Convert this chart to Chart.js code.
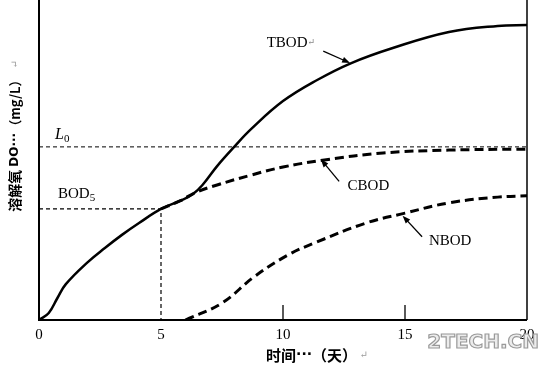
<!DOCTYPE html>
<html>
<head>
<meta charset="utf-8">
<script src="https://cdn.jsdelivr.net/npm/chart.js@4/dist/chart.umd.min.js"></script>
<style>
  html, body { margin: 0; padding: 0; background: #fff; }
  #wrap { width: 549px; height: 369px; }
</style>
</head>
<body>
<div id="wrap"><canvas id="chart"></canvas></div>
<script>
// x: days, y: dissolved oxygen consumed (arbitrary mg/L units, axis has no numbers)
const TBOD_DAYS = [0, 0.4, 0.75, 1.1, 2, 2.7, 3.4, 4.1, 5, 5.8, 6.3, 6.7, 7.3, 8, 8.7, 10, 11.4, 12.8, 14.5, 16.8, 18.8, 20];
const TBOD_VALS = [0, 0.22, 0.68, 1.12, 1.81, 2.25, 2.66, 3.03, 3.47, 3.73, 3.93, 4.22, 4.81, 5.41, 5.97, 6.84, 7.5, 8.03, 8.5, 9.0, 9.19, 9.22];

const CBOD_DAYS = [5, 5.8, 6.4, 7.3, 8.7, 10, 11.7, 14.1, 16.8, 20];
const CBOD_VALS = [3.47, 3.73, 3.98, 4.22, 4.53, 4.78, 5.0, 5.22, 5.31, 5.34];

const NBOD_DAYS = [6.0, 7.5, 8.8, 10.2, 11.3, 13.4, 15, 16.8, 18.8, 20];
const NBOD_VALS = [0, 0.53, 1.34, 2.03, 2.41, 3.03, 3.34, 3.66, 3.84, 3.88];

const L0 = 5.41;
const BOD5_DAY = 5;
const BOD5 = 3.47;

const X_TICKS = [0, 5, 10, 15, 20];
const INNER_TICKS = [10, 15];

// curve labels: [text, labelDay, labelVal, arrowTailDay, arrowTailVal, arrowHeadDay, arrowHeadVal]
const CURVE_LABELS = [
  ["TBOD", 10.2, 8.66, 11.65, 8.4, 12.75, 8.03],
  ["CBOD", 13.5, 4.19, 12.3, 4.33, 11.55, 5.02],
  ["NBOD", 16.85, 2.47, 15.7, 2.6, 14.9, 3.26],
];

const X_TITLE = ["时间", "···", "（天）"];
const Y_TITLE = ["溶解氧 ", "DO···", "（mg/L）"];
const PARA_MARK = "↵";

const toPts = (xs, ys) => xs.map((x, i) => ({ x: x, y: ys[i] }));

const SERIF = "'Liberation Serif', 'DejaVu Serif', serif";
const CJK = "'Noto Sans CJK SC', 'Noto Sans', sans-serif";
const LATIN = "'DejaVu Sans', 'Liberation Sans', sans-serif";

function drawParts(ctx, parts, x, y, align) {
  let total = 0;
  parts.forEach((p) => { ctx.font = p.font; total += ctx.measureText(p.text).width; });
  let cx = align === "center" ? x - total / 2 : x;
  ctx.textBaseline = "middle";
  ctx.textAlign = "left";
  parts.forEach((p) => {
    ctx.font = p.font;
    ctx.fillStyle = p.color || "#000";
    ctx.fillText(p.text, cx, y + (p.dy || 0));
    cx += ctx.measureText(p.text).width;
  });
}

function arrow(ctx, x1, y1, x2, y2) {
  const a = Math.atan2(y2 - y1, x2 - x1);
  ctx.strokeStyle = "#000";
  ctx.fillStyle = "#000";
  ctx.lineWidth = 1.3;
  ctx.beginPath();
  ctx.moveTo(x1, y1);
  ctx.lineTo(x2 - 5 * Math.cos(a), y2 - 5 * Math.sin(a));
  ctx.stroke();
  ctx.beginPath();
  ctx.moveTo(x2, y2);
  ctx.lineTo(x2 - 8 * Math.cos(a) + 3 * Math.sin(a), y2 - 8 * Math.sin(a) - 3 * Math.cos(a));
  ctx.lineTo(x2 - 8 * Math.cos(a) - 3 * Math.sin(a), y2 - 8 * Math.sin(a) + 3 * Math.cos(a));
  ctx.closePath();
  ctx.fill();
}

const decorations = {
  id: "decorations",
  afterDraw(chart) {
    const { ctx, chartArea: ca, scales } = chart;
    const xs = scales.x, ys = scales.y;
    ctx.save();

    // frame: left, bottom, right
    ctx.strokeStyle = "#000";
    ctx.lineWidth = 2;
    ctx.beginPath();
    ctx.moveTo(ca.left, 0);
    ctx.lineTo(ca.left, ca.bottom);
    ctx.lineTo(ca.right, ca.bottom);
    ctx.stroke();
    ctx.lineWidth = 1.5;
    ctx.beginPath();
    ctx.moveTo(ca.right, 0);
    ctx.lineTo(ca.right, ca.bottom);
    ctx.stroke();

    // inner tick marks
    ctx.lineWidth = 1.3;
    INNER_TICKS.forEach((t) => {
      const px = xs.getPixelForValue(t);
      ctx.beginPath();
      ctx.moveTo(px, ca.bottom);
      ctx.lineTo(px, ca.bottom - 15);
      ctx.stroke();
    });

    // curve labels and arrows
    const lab = "15px " + SERIF;
    CURVE_LABELS.forEach(([text, lx, ly, tx, ty, hx, hy]) => {
      const parts = [{ text: text, font: lab }];
      if (text === "TBOD") parts.push({ text: PARA_MARK, font: "9px " + SERIF, color: "#888" });
      drawParts(ctx, parts, xs.getPixelForValue(lx) + (text === "TBOD" ? 3 : 0), ys.getPixelForValue(ly), "center");
      arrow(ctx, xs.getPixelForValue(tx), ys.getPixelForValue(ty), xs.getPixelForValue(hx), ys.getPixelForValue(hy));
    });

    // L0 and BOD5 labels
    drawParts(ctx, [
      { text: "L", font: "italic 16px " + SERIF },
      { text: "0", font: "11px " + SERIF, dy: 4 },
    ], xs.getPixelForValue(0.66), ys.getPixelForValue(L0) - 12, "left");
    drawParts(ctx, [
      { text: "BOD", font: lab },
      { text: "5", font: "11px " + SERIF, dy: 4 },
    ], xs.getPixelForValue(0.78), ys.getPixelForValue(BOD5) - 15, "left");

    // x axis title
    drawParts(ctx, [
      { text: X_TITLE[0], font: "bold 15px " + CJK },
      { text: X_TITLE[1], font: "bold 14px " + LATIN },
      { text: X_TITLE[2], font: "bold 15px " + CJK },
      { text: " " + PARA_MARK, font: "10px " + SERIF, color: "#999" },
    ], (ca.left + ca.right) / 2 + 34, 355, "center");

    // y axis title
    ctx.save();
    ctx.translate(15, 136);
    ctx.rotate(-Math.PI / 2);
    drawParts(ctx, [
      { text: Y_TITLE[0], font: "bold 14px " + CJK },
      { text: Y_TITLE[1], font: "bold 12px " + LATIN },
      { text: Y_TITLE[2], font: "bold 13px " + CJK },
      { text: "  " + PARA_MARK, font: "10px " + SERIF, color: "#999" },
    ], 0, 0, "center");
    ctx.restore();

    // watermark
    ctx.font = "bold 20px 'DejaVu Sans', sans-serif";
    ctx.textAlign = "right";
    ctx.textBaseline = "middle";
    ctx.lineWidth = 1.2;
    ctx.fillStyle = "#ececec";
    ctx.strokeStyle = "#9a9a9a";
    ctx.fillText("2TECH.CN", chart.width - 10, 343);
    ctx.strokeText("2TECH.CN", chart.width - 10, 343);

    ctx.restore();
  },
};

new Chart(document.getElementById("chart"), {
  type: "line",
  data: {
    datasets: [
      {
        label: "L0",
        data: toPts([0, 20], [L0, L0]),
        borderColor: "#000",
        borderWidth: 1,
        borderDash: [4, 3],
        tension: 0,
      },
      {
        label: "BOD5",
        data: toPts([0, BOD5_DAY, BOD5_DAY], [BOD5, BOD5, 0]),
        borderColor: "#000",
        borderWidth: 1.2,
        borderDash: [4, 3],
        tension: 0,
      },
      {
        label: "NBOD",
        data: toPts(NBOD_DAYS, NBOD_VALS),
        borderColor: "#000",
        borderWidth: 3,
        borderDash: [9, 5],
        tension: 0.4,
      },
      {
        label: "CBOD",
        data: toPts(CBOD_DAYS, CBOD_VALS),
        borderColor: "#000",
        borderWidth: 3,
        borderDash: [9, 5],
        tension: 0.4,
      },
      {
        label: "TBOD",
        data: toPts(TBOD_DAYS, TBOD_VALS),
        borderColor: "#000",
        borderWidth: 2.5,
        tension: 0.4,
      },
    ],
  },
  options: {
    responsive: true,
    maintainAspectRatio: false,
    animation: false,
    events: [],
    elements: { point: { radius: 0 } },
    layout: { padding: { left: 39, right: 22, top: 0, bottom: 19 } },
    plugins: { legend: { display: false }, tooltip: { enabled: false } },
    scales: {
      x: {
        type: "linear",
        min: 0,
        max: 20,
        afterBuildTicks: (s) => { s.ticks = X_TICKS.map((v) => ({ value: v })); },
        grid: { display: false, drawTicks: false },
        border: { display: false },
        ticks: {
          padding: 6,
          maxRotation: 0,
          color: "#000",
          font: { family: SERIF, size: 15, lineHeight: 1.2 },
        },
      },
      y: { type: "linear", display: false, min: 0, max: 10 },
    },
  },
  plugins: [decorations],
});
</script>
</body>
</html>
